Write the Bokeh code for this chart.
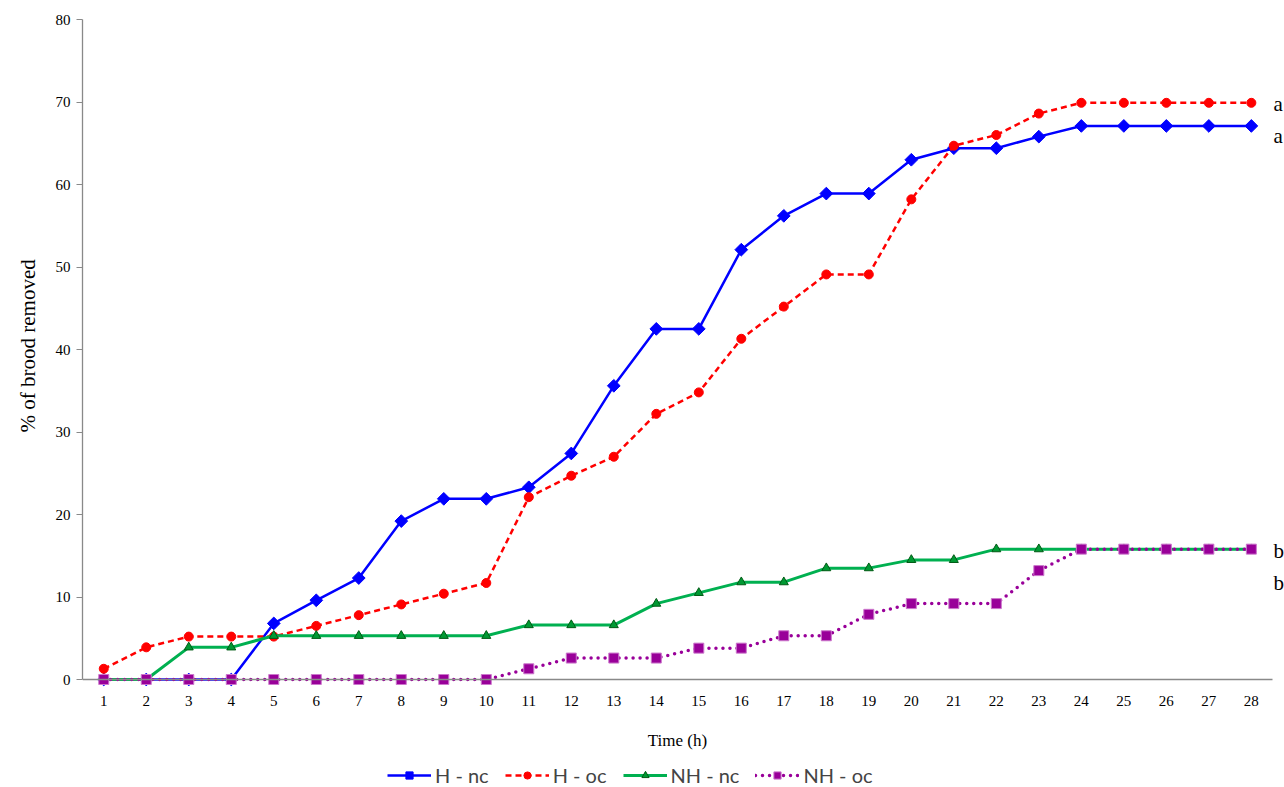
import math
from bokeh.plotting import figure
from bokeh.models import Legend, LegendItem, Label, FixedTicker, Range1d, Title
from bokeh.embed import file_html
from bokeh.resources import INLINE

hours = list(range(1, 29))
h_nc = [0, 0, 0, 0, 6.8, 9.6, 12.3, 19.2, 21.9, 21.9, 23.3, 27.4, 35.6, 42.5, 42.5,
        52.1, 56.2, 58.9, 58.9, 63.0, 64.4, 64.4, 65.8, 67.1, 67.1, 67.1, 67.1, 67.1]
h_oc = [1.3, 3.9, 5.2, 5.2, 5.2, 6.5, 7.8, 9.1, 10.4, 11.7, 22.1, 24.7, 27.0, 32.2, 34.8,
        41.3, 45.2, 49.1, 49.1, 58.2, 64.7, 66.0, 68.6, 69.9, 69.9, 69.9, 69.9, 69.9]
nh_nc = [0, 0, 3.9, 3.9, 5.3, 5.3, 5.3, 5.3, 5.3, 5.3, 6.6, 6.6, 6.6, 9.2, 10.5,
         11.8, 11.8, 13.5, 13.5, 14.5, 14.5, 15.8, 15.8, 15.8, 15.8, 15.8, 15.8, 15.8]
nh_oc = [0, 0, 0, 0, 0, 0, 0, 0, 0, 0, 1.3, 2.6, 2.6, 2.6, 3.8,
         3.8, 5.3, 5.3, 7.9, 9.2, 9.2, 9.2, 13.2, 15.8, 15.8, 15.8, 15.8, 15.8]
y_ticks = [0, 10, 20, 30, 40, 50, 60, 70, 80]
group_letters = ["a", "a", "b", "b"]
group_letter_y = [69.7, 65.9, 15.6, 11.7]

# frame runs down to the page bottom; the x axis is pinned at y = 0
p = figure(width=1284, height=787, output_backend="svg", toolbar_location=None,
           x_range=Range1d(0.5, 28.78), y_range=Range1d(-13.09, 80),
           min_border_left=80, min_border_right=0, min_border_top=19,
           min_border_bottom=0)
p.outline_line_color = None
p.grid.visible = False

serif = "Liberation Serif"
for ax in (p.xaxis[0], p.yaxis[0]):
    ax.axis_line_color = "#898989"
    ax.axis_line_width = 1.3
    ax.major_label_text_font = serif
    ax.major_label_text_color = "#000000"
    ax.major_label_text_font_size = "15px"
    ax.axis_label_text_font = serif
    ax.axis_label_text_font_style = "normal"
    ax.axis_label_text_color = "#000000"
    ax.minor_tick_line_color = None

p.xaxis.fixed_location = 0
p.xaxis.ticker = FixedTicker(ticks=hours)
p.xaxis.bounds = (0.5, 28.5)
p.xaxis.major_tick_line_color = None
p.xaxis.major_label_standoff = 10
p.xaxis.axis_label = "Time (h)"
p.xaxis.axis_label_text_font_size = "17px"
p.xaxis.axis_label_standoff = 22

p.yaxis.ticker = FixedTicker(ticks=y_ticks)
p.yaxis.bounds = (0, 80)
p.yaxis.major_tick_line_color = "#898989"
p.yaxis.major_tick_in = 0
p.yaxis.major_tick_out = 6
p.yaxis.major_label_standoff = 6

p.add_layout(Title(text="% of brood removed", align="left", offset=355, standoff=26,
                   text_font=serif, text_font_size="21px", text_font_style="normal",
                   text_color="#000000"), "left")

r1l = p.line(hours, h_nc, line_color="#0000FF", line_width=2.5)
r1m = p.scatter(hours, h_nc, marker="square", angle=math.pi / 4, size=9,
                fill_color="#0000FF", line_color="#0000FF")
r2l = p.line(hours, h_oc, line_color="#FF0000", line_width=2.5, line_dash="6 4")
r2m = p.scatter(hours, h_oc, marker="circle", size=9, fill_color="#FF0000", line_color="#FF0000")
r3l = p.line(hours, nh_nc, line_color="#00B050", line_width=3)
r3m = p.scatter(hours, nh_nc, marker="triangle", size=9, fill_color="#009933", line_color="#005A14", line_width=1)
r4l = p.line(hours, nh_oc, line_color="#990099", line_width=3.5, line_dash="0 7", line_cap="round")
r4m = p.scatter(hours, nh_oc, marker="square", size=10, fill_color="#990099", line_color="#CC77CC", line_width=1)

legend = Legend(items=[
    LegendItem(label="H - nc", renderers=[r1l, r1m]),
    LegendItem(label="H - oc", renderers=[r2l, r2m]),
    LegendItem(label="NH - nc", renderers=[r3l, r3m]),
    LegendItem(label="NH - oc", renderers=[r4l, r4m]),
], orientation="horizontal", location=(305, 0))
legend.label_text_font = "Lato"
legend.label_text_font_size = "20px"
legend.label_height = 18
legend.glyph_height = 18
legend.glyph_width = 44
legend.label_standoff = 4
legend.spacing = 16
legend.border_line_color = None
legend.background_fill_alpha = 0
legend.padding = 0
legend.margin = 0
p.add_layout(legend)

for txt, yv in zip(group_letters, group_letter_y):
    p.add_layout(Label(x=28.5, y=yv, text=txt, x_offset=1, text_font=serif,
                       text_font_size="21px", text_baseline="middle", text_align="left",
                       text_color="#000000"))

open("out.html", "w").write(file_html(p, INLINE))
